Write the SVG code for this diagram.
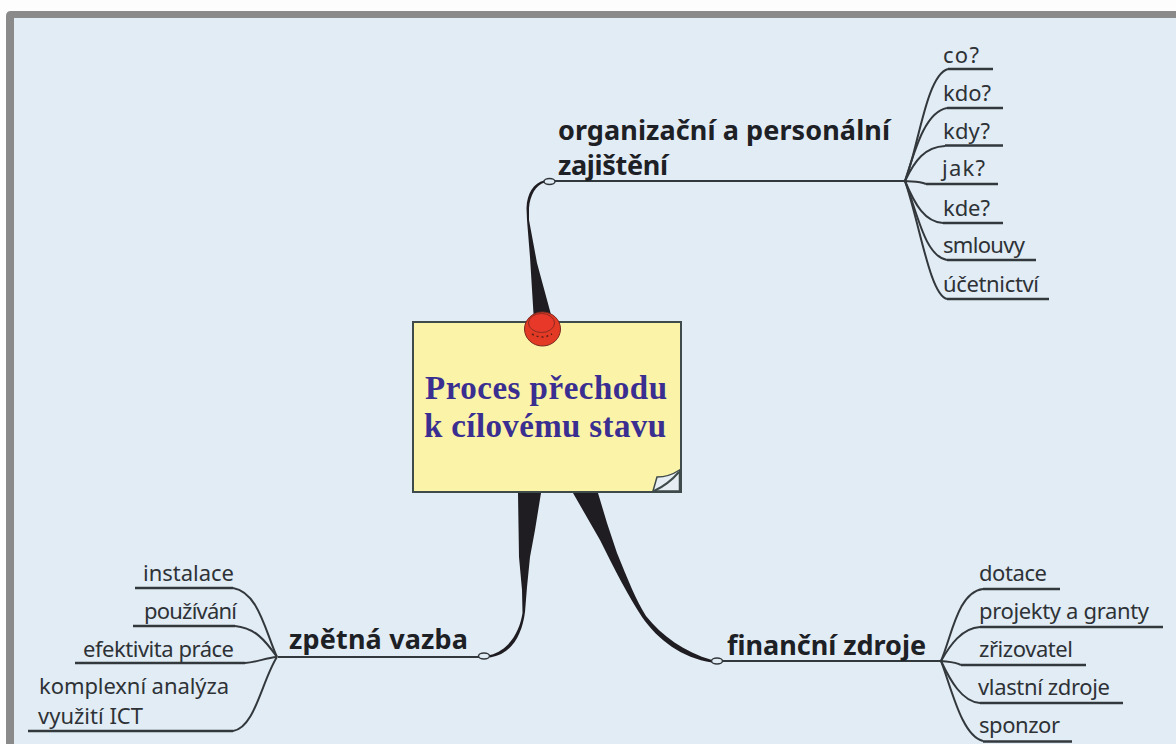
<svg xmlns="http://www.w3.org/2000/svg" width="1176" height="744" viewBox="0 0 1176 744">
<style>
.sub{font-family:"Noto Sans","DejaVu Sans",sans-serif;font-size:22px;fill:#2e3236}
.main{font-family:"Noto Sans","DejaVu Sans",sans-serif;font-size:27px;font-weight:bold;fill:#1d2024}
.title{font-family:"Liberation Serif",serif;font-size:33px;font-weight:bold;fill:#3a2f91}
.ln{fill:none;stroke:#33383c;stroke-width:2}
.ul{fill:none;stroke:#33383c;stroke-width:2.4}
.taper{fill:#1f1d22;stroke:none}
.knob{fill:#e1ecf5;stroke:#33383c;stroke-width:1.5}
</style>
<rect width="1176" height="744" fill="#fdfdfd"/>
<path d="M6 744V16Q6 11 11 11H1176V744Z" fill="#8a8a8a"/>
<rect x="14" y="18" width="1162" height="726" fill="#e1ecf5"/>
<g id="connectors">
<path class="taper" d="M534 322L530 257L527 220L526.500 208C527 193 534 183 544 180.500L544.500 182.500C536 185 530 195 529 208L529 220L537 263L553 322Z"/>
<path class="taper" d="M518 493L519 557L522 590L522.500 613C520 630 510 650 490 655L490 657.500C512 654 522 635 525 612L527 587L530 557L535 530L541 493Z"/>
<path class="taper" d="M573 493L600 540C614 568 628 596 642 617C658 640 682 658 712 662.500L712 660C684 652 662 636 646 616C636 600 628 580 617 553L607 523L598 493Z"/>
<path class="ln" d="M555 181H905"/>
<path class="ln" d="M278 657H482"/>
<path class="ln" d="M722 661H941"/>
<g id="branches-top">
<path class="ln" d="M905 181C918 150 926 75 948 69"/>
<path class="ln" d="M905 181C915 150 925 112 947 108"/>
<path class="ln" d="M905 181C915 160 925 147 945 146"/>
<path class="ln" d="M905 181C912 182 918 181 926 184"/>
<path class="ln" d="M905 181C915 205 925 222 943 223"/>
<path class="ln" d="M905 181C918 215 925 256 947 260"/>
<path class="ln" d="M905 181C920 225 930 295 947 299"/>
<path class="ul" d="M948 69H993M947 108H1003M945 145.500H1003M926 184H998M943 223H1003M947 260H1036M947 299H1049"/>
</g>
<g id="branches-left">
<path class="ln" d="M277 657C265 630 258 592 233 588"/>
<path class="ln" d="M277 657C265 640 255 628 235 626"/>
<path class="ln" d="M277 657C265 658 258 662 245 663"/>
<path class="ln" d="M277 657C262 680 255 728 233 731"/>
<path class="ul" d="M135 588H233M133 626H235M75 663H245M28 731H233"/>
</g>
<g id="branches-right">
<path class="ln" d="M941 661C952 635 958 592 983 589"/>
<path class="ln" d="M941 661C950 645 962 628 980 627"/>
<path class="ln" d="M941 661C948 662 955 662 961 665"/>
<path class="ln" d="M941 661C950 680 962 702 980 703"/>
<path class="ln" d="M941 661C952 690 962 736 983 741"/>
<path class="ul" d="M983 589H1060M980 627H1163M961 665H1086M980 703H1123M983 741.500H1072"/>
</g>
<ellipse class="knob" cx="549.500" cy="181.500" rx="5.500" ry="3"/>
<ellipse class="knob" cx="484" cy="656" rx="5.500" ry="3"/>
<ellipse class="knob" cx="717" cy="661" rx="5.500" ry="3"/>
</g>
<g id="center">
<rect x="413" y="322" width="268" height="170" fill="#fbf3a7" stroke="#3f4a4a" stroke-width="2"/>
<path d="M653 491L657 477C665 477 672 475 679.500 470V491Z" fill="#e6edf3" stroke="#3f4a4a" stroke-width="1.500"/>
<path d="M654 491C665 486 672 480 679 472" fill="none" stroke="#3f4a4a" stroke-width="2"/>
<text class="title" x="425" y="399" textLength="242">Proces přechodu</text>
<text class="title" x="424" y="437" textLength="242">k cílovému stavu</text>
<ellipse cx="542.500" cy="329" rx="18" ry="17" fill="#e23a24" stroke="#7a2a20" stroke-width="1"/>
<ellipse cx="541.500" cy="323" rx="13" ry="9.500" fill="#e8382a" stroke="#8a2a20" stroke-width="1"/>
<path d="M532 334q10 6 20 0" fill="none" stroke="#5a1f18" stroke-width="1.500" stroke-dasharray="2 3"/>
</g>
<g id="organizacni">
<text class="main" x="558" y="140" textLength="332">organizační a personální</text>
<text class="main" x="558" y="175" textLength="110">zajištění</text>
<text class="sub" x="943" y="63" textLength="36">co?</text>
<text class="sub" x="943" y="101" textLength="48">kdo?</text>
<text class="sub" x="943" y="139" textLength="47">kdy?</text>
<text class="sub" x="942" y="176" textLength="43">jak?</text>
<text class="sub" x="943" y="216" textLength="47">kde?</text>
<text class="sub" x="943" y="253" textLength="82">smlouvy</text>
<text class="sub" x="943" y="292" textLength="96">účetnictví</text>
</g>
<g id="zpetna">
<text class="main" x="289" y="649" textLength="179">zpětná vazba</text>
<text class="sub" x="143" y="581" textLength="91">instalace</text>
<text class="sub" x="144" y="619" textLength="93">používání</text>
<text class="sub" x="83" y="657" textLength="151">efektivita práce</text>
<text class="sub" x="39" y="694" textLength="190">komplexní analýza</text>
<text class="sub" x="38" y="724" textLength="105">využití ICT</text>
</g>
<g id="financni">
<text class="main" x="727" y="655" textLength="199">finanční zdroje</text>
<text class="sub" x="979" y="581" textLength="68">dotace</text>
<text class="sub" x="979" y="619" textLength="170">projekty a granty</text>
<text class="sub" x="979" y="657" textLength="94">zřizovatel</text>
<text class="sub" x="978" y="695" textLength="132">vlastní zdroje</text>
<text class="sub" x="979" y="733" textLength="81">sponzor</text>
</g>
</svg>
